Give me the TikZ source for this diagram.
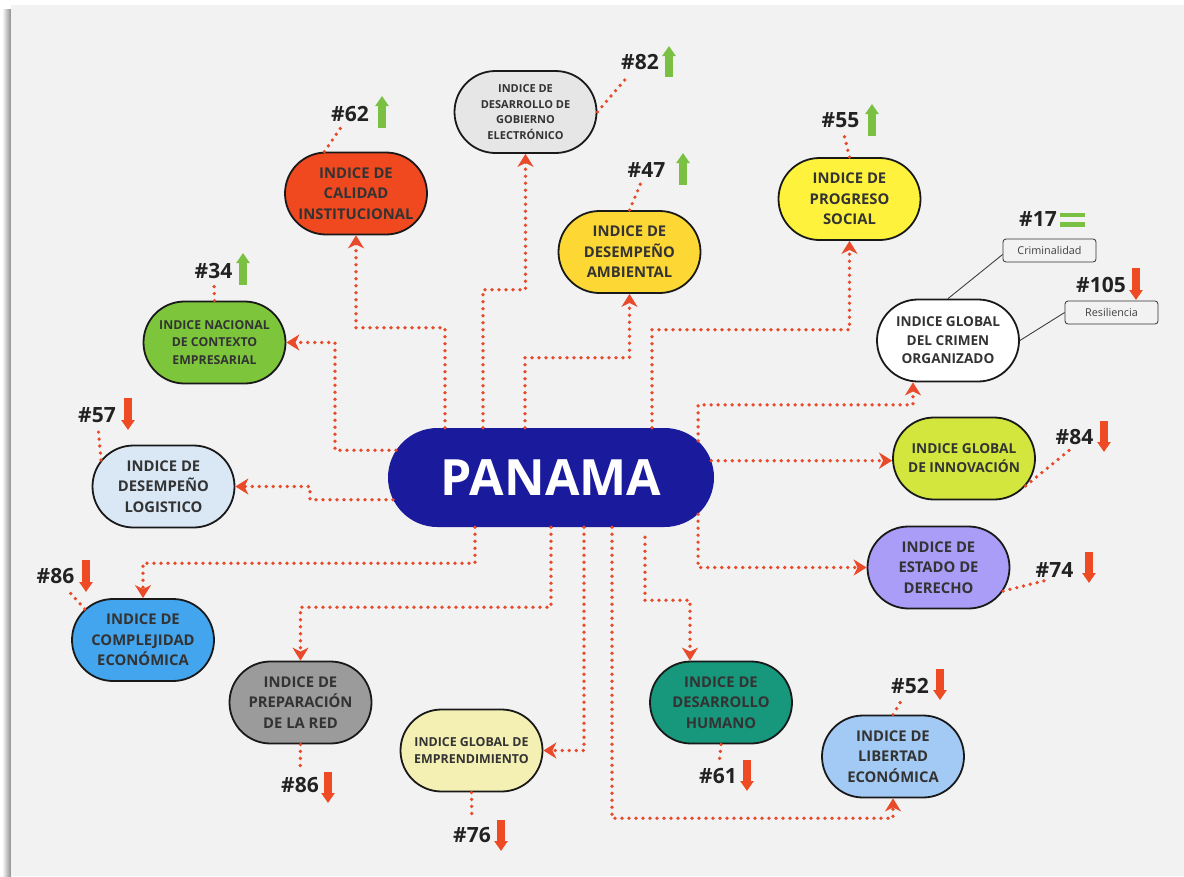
\documentclass[tikz,border=0pt]{standalone}
\usepackage{fontspec}
\setmainfont{Open Sans}
\usetikzlibrary{shapes.misc,arrows.meta,positioning}

\definecolor{panel}{HTML}{F2F2F2}
\definecolor{hubblue}{HTML}{1A1A9C}
\definecolor{dotred}{HTML}{E84A2A}
\definecolor{upgreen}{HTML}{7AC143}
\definecolor{downred}{HTML}{EE4A24}
\definecolor{textgray}{HTML}{333333}
\definecolor{rankgray}{HTML}{222222}
\definecolor{calidadred}{HTML}{F0491F}
\definecolor{gobgray}{HTML}{E6E6E6}
\definecolor{ambyellow}{HTML}{FDD733}
\definecolor{progyellow}{HTML}{FEF23C}
\definecolor{innolime}{HTML}{D3E63E}
\definecolor{estlav}{HTML}{A99DF7}
\definecolor{libblue}{HTML}{A2CAF4}
\definecolor{humteal}{HTML}{17977B}
\definecolor{empyellow}{HTML}{F4F0B4}
\definecolor{redgray}{HTML}{9B9B9B}
\definecolor{compblue}{HTML}{42A5EE}
\definecolor{logblue}{HTML}{DAE8F6}
\definecolor{nacgreen}{HTML}{7DC63B}

\begin{document}
\begin{tikzpicture}[x=1pt, y=-1pt]
    % Define block styles
    \tikzstyle{hub} = [rounded rectangle, fill=hubblue, minimum width=326pt, minimum height=99pt, inner sep=0pt, text=white, font=\fontsize{50}{50}\selectfont\bfseries]
    \tikzstyle{pill} = [rounded rectangle, draw=black!90, line width=1.8pt, minimum width=142pt, minimum height=82pt, inner sep=0pt, align=center, text=textgray, font=\fontsize{14.8}{20.5}\selectfont\bfseries]
    \tikzstyle{line} = [draw=dotred, line width=3.7pt, line cap=round, dash pattern=on 0pt off 7pt, -{Stealth[length=13pt,width=16pt,inset=4pt]}]
    \tikzstyle{tie} = [draw=dotred, line width=3.7pt, line cap=round, dash pattern=on 0pt off 7pt, shorten >=6pt]
    \tikzstyle{leader} = [draw=black!75, line width=0.9pt]
    \tikzstyle{rank} = [font=\fontsize{21}{21}\selectfont\bfseries, text=rankgray, inner sep=1pt]
    \tikzstyle{tag} = [draw=black!80, line width=0.8pt, rounded corners=3pt, minimum width=93pt, minimum height=23pt, inner sep=0pt, text=black!75, font=\fontsize{10.8}{10.8}\selectfont]
    \tikzstyle{rise} = [draw=upgreen, line width=8.5pt, -{Triangle[length=10pt,width=13pt]}]
    \tikzstyle{fall} = [draw=downred, line width=8.5pt, -{Triangle[length=10pt,width=13pt]}]

    % Background
    \useasboundingbox (0,0) rectangle (1184,876);
    \fill[white] (0,0) rectangle (1184,876);
    \shade[left color=white, right color=black!45] (2,9) rectangle (11,876);
    \fill[panel] (11,5) rectangle (1184,876);

    % Nodes
    \node [hub] (panama) at (551,477.5) {PANAMA};
    \node [pill, fill=calidadred] (calidad) at (356,193.5) {INDICE DE\\CALIDAD\\INSTITUCIONAL};
    \node [pill, fill=gobgray, font=\fontsize{11}{15.5}\selectfont\bfseries] (gobierno) at (525.5,112) {INDICE DE\\DESARROLLO DE\\GOBIERNO\\ELECTRÓNICO};
    \node [pill, fill=ambyellow] (ambiental) at (629.5,252) {INDICE DE\\DESEMPEÑO\\AMBIENTAL};
    \node [pill, fill=progyellow] (progreso) at (849.5,199) {INDICE DE\\PROGRESO\\SOCIAL};
    \node [pill, fill=white, font=\fontsize{13.6}{18.5}\selectfont\bfseries] (crimen) at (948,340.5) {INDICE GLOBAL\\DEL CRIMEN\\ORGANIZADO};
    \node [pill, fill=innolime, font=\fontsize{13.7}{19}\selectfont\bfseries] (innovacion) at (964,458.5) {INDICE GLOBAL\\DE INNOVACIÓN};
    \node [pill, fill=estlav] (estado) at (938.5,567.5) {INDICE DE\\ESTADO DE\\DERECHO};
    \node [pill, fill=libblue] (libertad) at (893,756.5) {INDICE DE\\LIBERTAD\\ECONÓMICA};
    \node [pill, fill=humteal] (humano) at (721,702.5) {INDICE DE\\DESARROLLO\\HUMANO};
    \node [pill, fill=empyellow, font=\fontsize{12.4}{17.5}\selectfont\bfseries] (emprende) at (471.5,750.5) {INDICE GLOBAL DE\\EMPRENDIMIENTO};
    \node [pill, fill=redgray] (preparacion) at (300.5,702.5) {INDICE DE\\PREPARACIÓN\\DE LA RED};
    \node [pill, fill=compblue] (complejidad) at (143,640) {INDICE DE\\COMPLEJIDAD\\ECONÓMICA};
    \node [pill, fill=logblue] (logistico) at (163.5,486.5) {INDICE DE\\DESEMPEÑO\\LOGISTICO};
    \node [pill, fill=nacgreen, font=\fontsize{12.3}{17.5}\selectfont\bfseries] (nacional) at (214.5,342.5) {INDICE NACIONAL\\DE CONTEXTO\\EMPRESARIAL};

    \node [tag] (crim) at (1049.5,250.5) {Criminalidad};
    \node [tag] (resil) at (1111.5,312.5) {Resiliencia};

    % Rankings
    \node [rank] (r62) at (350,114) {\#62};
    \node [rank] (r82) at (640,62) {\#82};
    \node [rank] (r47) at (646.5,169.5) {\#47};
    \node [rank] (r55) at (840.5,120.5) {\#55};
    \node [rank] (r17) at (1038,219) {\#17};
    \node [rank] (r105) at (1101,285) {\#105};
    \node [rank] (r84) at (1074.5,437) {\#84};
    \node [rank] (r74) at (1054.5,569.5) {\#74};
    \node [rank] (r52) at (910,686) {\#52};
    \node [rank] (r61) at (718,776) {\#61};
    \node [rank] (r76) at (472,835) {\#76};
    \node [rank] (r86b) at (300,785) {\#86};
    \node [rank] (r86a) at (55.5,576.5) {\#86};
    \node [rank] (r57) at (97,415.5) {\#57};
    \node [rank] (r34) at (213.5,270.5) {\#34};

    % Trend marks
    \draw [rise] (382,128) -- (382,96);
    \draw [rise] (669,77) -- (669,46);
    \draw [rise] (683,185) -- (683,153);
    \draw [rise] (872,136) -- (872,104);
    \fill [upgreen] (1060,212.7) rectangle (1085,217.3);
    \fill [upgreen] (1060,222) rectangle (1085,226.7);
    \draw [fall] (1136,268) -- (1136,300);
    \draw [fall] (1104,421) -- (1104,452);
    \draw [fall] (1089,552) -- (1089,583);
    \draw [fall] (940,669) -- (940,700);
    \draw [fall] (747,760) -- (747,791);
    \draw [fall] (501,820) -- (501,851);
    \draw [fall] (328,772) -- (328,803);
    \draw [fall] (86,560) -- (86,592);
    \draw [fall] (128,398) -- (128,430);
    \draw [rise] (243,285) -- (243,253);

    % Arrows
    \path [line] ([xshift=-106pt]panama.north) -- ++(0,-100) -| (calidad.south);
    \path [line] ([xshift=-68pt]panama.north) -- ++(0,-138) -| (gobierno.south);
    \path [line] ([xshift=-26pt]panama.north) -- ++(0,-70) -| (ambiental.south);
    \path [line] ([xshift=101pt]panama.north) -- ++(0,-98) -| (progreso.south);
    \path [line] (panama.14) -- ++(0,-36) -| ([xshift=-35pt]crimen.south);
    \path [line] (panama.6) -- (panama.6 -| innovacion.west);
    \path [line] (panama.-14) |- (estado.west);
    \path [line] ([xshift=94pt,yshift=-10pt]panama.south) -- ++(0,63) -| ([xshift=-31pt]humano.north);
    \path [line] ([xshift=61pt]panama.south) -- ++(0,291) -| (libertad.south);
    \path [line] ([xshift=33pt]panama.south) |- (emprende.east);
    \path [line] (panama.south) -- ++(0,80) -| (preparacion.north);
    \path [line] ([xshift=-76pt]panama.south) -- ++(0,36) -| (complejidad.north);
    \path [line] (panama.170) -- ++(-61,0) |- (nacional.east);
    \path [line] (panama.188) -- ++(-83,0) |- (logistico.east);

    % Ranking ties
    \path [tie] (calidad.127) -- (r62);
    \path [tie] (gobierno.east) -- (r82);
    \path [tie] (ambiental.north) -- (r47);
    \path [tie] (progreso.north) -- (r55);
    \path [tie] (nacional.north) -- (r34);
    \path [tie] (logistico.157) -- (r57);
    \path [tie] (complejidad.152) -- (r86a);
    \path [tie] (preparacion.south) -- (r86b);
    \path [tie] (emprende.south) -- (r76);
    \path [tie] (humano.south) -- (r61);
    \path [tie] (libertad.north) -- (r52);
    \path [tie] (estado.-20) -- (r74.south);
    \path [tie] (innovacion.-24) -- (r84.south);

    \path [leader] (crimen.north) -- ([yshift=-4pt]crim.west);
    \path [leader] (crimen.east) -- (resil.west);
\end{tikzpicture}
\end{document}
